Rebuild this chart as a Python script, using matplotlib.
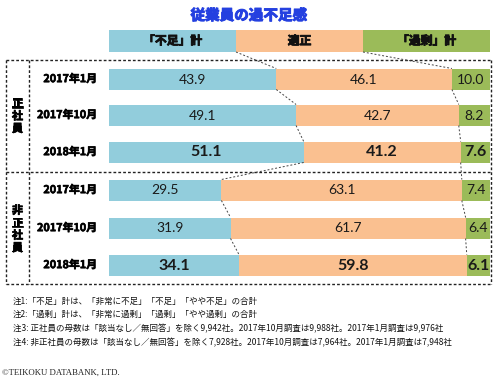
import numpy as np
import matplotlib.pyplot as plt
import matplotlib.patheffects as pe

plt.rcParams['font.family'] = ['Noto Sans CJK JP', 'DejaVu Sans']

# datos
titulo = '従業員の過不足感'
categorias = ['「不足」計', '適正', '「過剰」計']
grupos = ['正社員', '非正社員']
periodos = ['2017年1月', '2017年10月', '2018年1月']
fuera_seishain = [43.9, 49.1, 51.1]
tekisei_seishain = [46.1, 42.7, 41.2]
kajo_seishain = [10.0, 8.2, 7.6]
fuera_hiseishain = [29.5, 31.9, 34.1]
tekisei_hiseishain = [63.1, 61.7, 59.8]
kajo_hiseishain = [7.4, 6.4, 6.1]
notas = [
    '注1:「不足」計は、「非常に不足」「不足」「やや不足」の合計',
    '注2:「過剰」計は、「非常に過剰」「過剰」「やや過剰」の合計',
    '注3: 正社員の母数は「該当なし／無回答」を除く9,942社。2017年10月調査は9,988社。2017年1月調査は9,976社',
    '注4: 非正社員の母数は「該当なし／無回答」を除く7,928社。2017年10月調査は7,964社。2017年1月調査は7,948社',
]
copyright_txt = '©TEIKOKU DATABANK, LTD.'

colores = ['#92CDDC', '#FAC090', '#9BBB59']

fuerza = np.array(fuera_seishain + fuera_hiseishain)
tekisei = np.array(tekisei_seishain + tekisei_hiseishain)
kajo = np.array(kajo_seishain + kajo_hiseishain)

# posiciones (pixeles)
filas_y = np.array([79, 115, 152, 190, 228, 265])
alto = 21
cab_y, cab_alto = 41, 22


def negrita(color, ancho=0.6):
    # la fuente CJK no tiene negrita: se engruesa con un trazo
    return [pe.withStroke(linewidth=ancho, foreground=color)]


fig = plt.figure(figsize=(5, 3.83), dpi=100)
fondo = fig.add_axes([0, 0, 1, 1])
fondo.set_xlim(0, 500)
fondo.set_ylim(383, 0)
fondo.axis('off')

ax = fig.add_axes([109 / 500, 0, 381 / 500, 1])
ax.set_xlim(0, 100)
ax.set_ylim(383, 0)
ax.axis('off')

# titulo
fondo.text(249, 15, titulo, ha='center', va='center', fontsize=10.5,
           fontweight='bold', color='#2440E0', path_effects=negrita('#2440E0', 0.7))

# cabecera
tercio = 100 / 3
for i, cat in enumerate(categorias):
    ax.barh(cab_y, tercio, left=i * tercio, height=cab_alto, color=colores[i])
    ax.text(i * tercio + tercio / 2, cab_y, cat, ha='center', va='center',
            fontsize=8.5, fontweight='bold', color='#111111',
            path_effects=negrita('#111111'))

# barras
izq = [np.zeros(6), fuerza, fuerza + tekisei]
for serie, base, col in zip([fuerza, tekisei, kajo], izq, colores):
    ax.barh(filas_y, serie, left=base, height=alto, color=col)
    for k in range(6):
        ultimo = (k % 3 == 2)
        ax.text(base[k] + serie[k] / 2, filas_y[k] + 0.5, f'{serie[k]:.1f}',
                ha='center', va='center', family=['Lato', 'DejaVu Sans'],
                fontsize=11.5 if ultimo else 10,
                fontweight='bold' if ultimo else 'normal', color='#1a1a1a')

# lineas de conexion
conex = dict(color='#444444', lw=0.7, ls=(0, (2, 2)), clip_on=False)
b1 = np.concatenate([[tercio], fuerza])
b2 = np.concatenate([[2 * tercio], fuerza + tekisei])
inf = np.concatenate([[cab_y + cab_alto / 2], filas_y + alto / 2])
sup = filas_y - alto / 2
for b in (b1, b2):
    for k in range(6):
        ax.plot([b[k], b[k + 1]], [inf[k], sup[k]], **conex)

# cajas
caja = dict(color='#222222', lw=1.0, ls=(0, (2, 1.5)))
x0, x1, xm = 6, 491, 29
ytop, ymid, ybot = 60, 172, 284
for yy in (ytop, ymid, ybot):
    fondo.plot([x0, x1], [yy, yy], **caja)
for xx in (x0, xm, x1):
    fondo.plot([xx, xx], [ytop, ybot], **caja)

# etiquetas de grupo
for g, yc in zip(grupos, [116, 229]):
    fondo.text(17.5, yc, '\n'.join(g), ha='center', va='center', fontsize=8,
               fontweight='bold', linespacing=0.95, path_effects=negrita('black', 0.5))

# etiquetas de periodo
for k in range(6):
    fondo.text(97, filas_y[k], periodos[k % 3], ha='right', va='center',
               fontsize=7.8, fontweight='bold', path_effects=negrita('black', 0.45))

# notas
for n, yy in zip(notas, [301, 314, 329, 343]):
    fondo.text(13, yy, n, ha='left', va='center', fontsize=6.1, color='#111111')
fondo.text(2, 373, copyright_txt, ha='left', va='center', fontsize=6.3,
           family='Liberation Serif', color='#222222')

fig.savefig('out.png', dpi=100)
